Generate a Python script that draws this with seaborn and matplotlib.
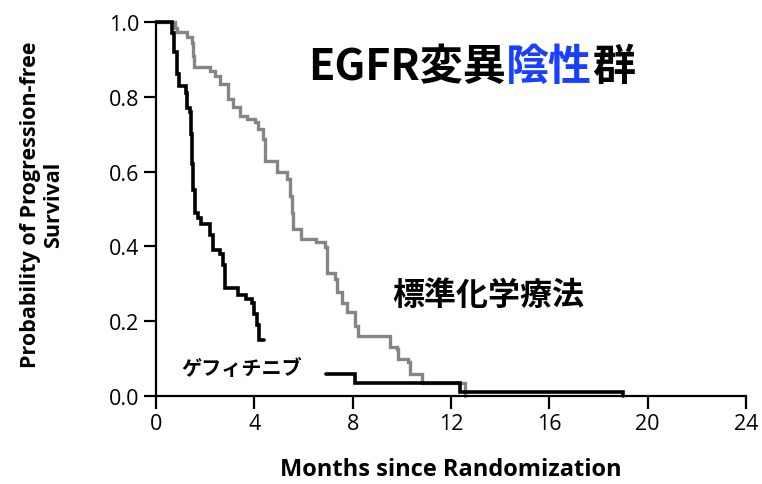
import matplotlib
matplotlib.use("Agg")
import matplotlib.pyplot as plt
import seaborn as sns
import pandas as pd

# ---- data ----
chemo_t = [0, 0.77, 0.85, 1.26, 1.46, 1.5, 1.55, 2.2, 2.4, 2.6, 2.93, 3.13,
           3.42, 3.7, 4.03, 4.15, 4.35, 4.43, 4.92, 5.33, 5.45, 5.52, 5.57,
           5.9, 6.5, 6.88, 6.96, 7.28, 7.36, 7.55, 7.77, 8.1, 8.22, 9.5, 9.8,
           9.85, 10.25, 10.33, 10.8, 12.55]
chemo_s = [1.0, 0.985, 0.973, 0.96, 0.945, 0.91, 0.88, 0.87, 0.856, 0.834,
           0.794, 0.773, 0.749, 0.74, 0.733, 0.714, 0.687, 0.628, 0.60, 0.58,
           0.535, 0.49, 0.447, 0.42, 0.412, 0.398, 0.33, 0.313, 0.278, 0.25,
           0.225, 0.187, 0.16, 0.131, 0.126, 0.10, 0.09, 0.059, 0.035, 0.0]

gef_t1 = [0, 0.65, 0.75, 0.85, 0.95, 1.2, 1.25, 1.38, 1.42, 1.47, 1.52, 1.57,
          1.7, 1.85, 2.2, 2.3, 2.6, 2.72, 2.8, 3.35, 3.65, 3.9, 4.0, 4.1, 4.2,
          4.4]
gef_s1 = [1.0, 0.97, 0.92, 0.86, 0.83, 0.81, 0.77, 0.76, 0.70, 0.62, 0.55,
          0.49, 0.475, 0.46, 0.43, 0.39, 0.38, 0.35, 0.29, 0.27, 0.26, 0.25,
          0.22, 0.19, 0.15, 0.15]
gef_t2 = [6.9, 8.1, 12.35, 19.0]
gef_s2 = [0.06, 0.035, 0.011, 0.0]

x_ticks = [0, 4, 8, 12, 16, 20, 24]
y_ticks = [0.0, 0.2, 0.4, 0.6, 0.8, 1.0]

title_parts = ["EGFR変異", "陰性", "群"]
label_chemo = "標準化学療法"
label_gef = "ゲフィチニブ"
x_label = "Months since Randomization"
y_label = "Probability of Progression-free\nSurvival"

# ---- styling ----
sns.set_style("ticks")
plt.rcParams['font.family'] = ['Open Sans', 'Noto Sans CJK JP', 'DejaVu Sans']
plt.rcParams.update({'text.color': 'black', 'axes.labelcolor': 'black',
                     'xtick.color': 'black', 'ytick.color': 'black',
                     'axes.edgecolor': 'black'})
JP = ['Noto Sans CJK JP', 'DejaVu Sans']

GRAY = '#858585'
BLUE = '#1a40ff'

fig = plt.figure(figsize=(7.62, 4.85), dpi=100)
ax = fig.add_axes([156 / 762, 1 - 397 / 485, 590 / 762, 374 / 485])

df_c = pd.DataFrame({'t': chemo_t, 's': chemo_s})
df_g1 = pd.DataFrame({'t': gef_t1, 's': gef_s1})
df_g2 = pd.DataFrame({'t': gef_t2, 's': gef_s2})

for df, col, lw in [(df_c, GRAY, 2.4), (df_g1, 'black', 2.6), (df_g2, 'black', 2.6)]:
    sns.lineplot(data=df, x='t', y='s', ax=ax, color=col, linewidth=lw,
                 drawstyle='steps-post', estimator=None, sort=False,
                 clip_on=False, solid_joinstyle='miter')

ax.set_xlim(0, 24)
ax.set_ylim(0, 1)
ax.set_xticks(x_ticks)
ax.set_xticklabels([str(v) for v in x_ticks])
ax.set_yticks(y_ticks)
ax.set_yticklabels([f"{v:.1f}" for v in y_ticks])
ax.set_xlabel("")
ax.set_ylabel("")
sns.despine(ax=ax)
for sp in ['left', 'bottom']:
    ax.spines[sp].set_linewidth(1.6)
    ax.spines[sp].set_color('black')
ax.tick_params(direction='out', length=9, width=1.6, labelsize=15.5, pad=3,
               colors='black')

# axis labels
fig.text(451 / 762, 1 - 470 / 485, x_label, ha='center', va='center',
         fontsize=17, fontweight='bold', color='black')
fig.text(42 / 762, 1 - 205 / 485, y_label, ha='center', va='center',
         rotation=90, fontsize=15.5, fontweight='bold', multialignment='center',
         linespacing=1.15, color='black')

# title with coloured part
t1 = ax.text(6.2, 0.848, title_parts[0], ha='left', va='baseline',
             fontsize=31, fontweight='bold', family=JP, color='black')
t2 = ax.annotate(title_parts[1], xy=(1, 0), xycoords=t1, ha='left', va='bottom',
                 fontsize=31, fontweight='bold', family=JP, color=BLUE)
t3 = ax.annotate(title_parts[2], xy=(1, 0), xycoords=t2, ha='left', va='bottom',
                 fontsize=31, fontweight='bold', family=JP, color='black')

# curve labels
ax.text(9.6, 0.27, label_chemo, ha='left', va='center', fontsize=23,
        fontweight='bold', family=JP, color='black')
ax.text(1.05, 0.075, label_gef, ha='left', va='center', fontsize=14.5,
        fontweight='bold', family=JP, color='black')

fig.savefig('out.png', dpi=100)
